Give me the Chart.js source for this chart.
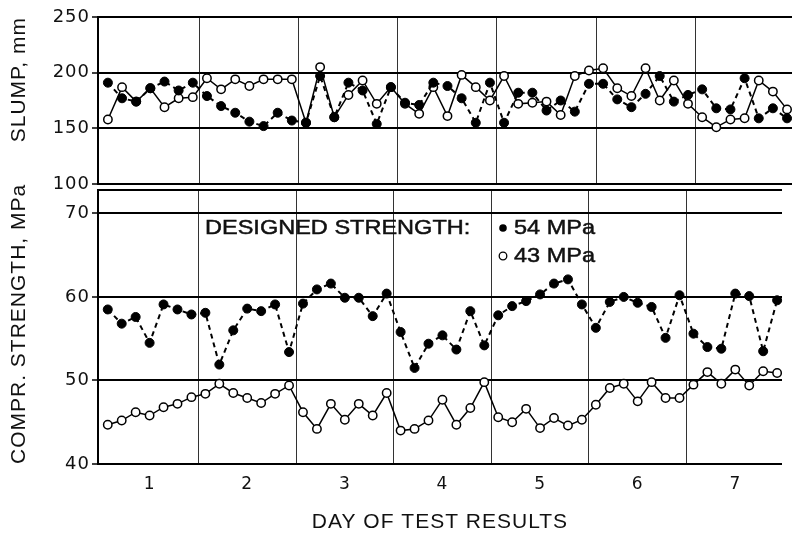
<!DOCTYPE html>
<html><head><meta charset="utf-8">
<script src="https://cdn.jsdelivr.net/npm/chart.js@4"></script>
<style>
html,body{margin:0;padding:0;background:#fff;}
#wrap{position:relative;width:792px;height:538px;overflow:hidden;background:#fff;}
#c1{position:absolute;left:0;top:0;}
#c2{position:absolute;left:0;top:170px;}
</style></head><body>
<div id="wrap">
<canvas id="c1" width="792" height="200"></canvas>
<canvas id="c2" width="792" height="368"></canvas>
</div>
<script>
// ---- data (7 tests per day, days 1..7) ----
const days = ['1','2','3','4','5','6','7'];
const testsPerDay = 7;
const slumpTicks = [100,150,200,250];
const strengthTicks = [40,50,60,70];

// slump, mm — 54 MPa concrete (filled dots)
const slump54 = [
  191,177,174,186,192,184,191,
  179,170,164,156,152,164,157,
  155,197,160,191,184,154,187,
  173,171,191,188,177,155,191,
  155,182,182,166,175,165,190,
  190,176,169,181,197,174,180,
  185,168,167,195,159,168,159];
// slump, mm — 43 MPa concrete (open circles)
const slump43 = [
  158,187,174,186,169,177,178,
  195,185,194,188,194,194,194,
  155,205,160,180,193,172,187,
  172,163,187,161,198,187,175,
  197,172,173,174,162,197,202,
  204,186,179,204,175,193,172,
  160,151,158,159,193,183,167];
// compressive strength, MPa — 54 MPa design
const strength54 = [
  58.5,56.8,57.6,54.5,59.1,58.5,57.9,
  58.1,51.9,56.0,58.6,58.3,59.1,53.4,
  59.2,60.9,61.6,59.9,59.9,57.7,60.4,
  55.8,51.5,54.4,55.4,53.7,58.3,54.2,
  57.8,58.9,59.5,60.3,61.6,62.1,59.1,
  56.3,59.4,60.0,59.3,58.8,55.1,60.2,
  55.6,54.0,53.8,60.4,60.1,53.5,59.6];
// compressive strength, MPa — 43 MPa design
const strength43 = [
  44.7,45.2,46.2,45.8,46.8,47.2,48.0,
  48.4,49.6,48.5,47.9,47.3,48.4,49.4,
  46.2,44.2,47.2,45.3,47.2,45.8,48.5,
  44.0,44.2,45.2,47.7,44.7,46.7,49.8,
  45.6,45.0,46.6,44.3,45.5,44.6,45.3,
  47.1,49.1,49.6,47.5,49.8,47.9,47.9,
  49.5,51.0,49.6,51.3,49.4,51.1,50.9];

// ---- layout helpers ----
const FONT = "'Liberation Sans', Arial, sans-serif";
const TICKFONT = "'DejaVu Sans', sans-serif";
const INK = '#111';
const xMin = -0.7, xMax = 48.35;
const dayCenters = days.map((d,i)=> i*testsPerDay + (testsPerDay-1)/2);
const dividers = days.slice(1).map((d,i)=> (i+1)*testsPerDay - 0.5);
const pts = arr => arr.map((v,k)=>({x:k, y:v}));

function xScale(showLabels){
  return {
    type:'linear', min:xMin, max:xMax,
    afterBuildTicks: s => {
      const vals = [xMin, ...dayCenters, ...dividers, xMax].sort((a,b)=>a-b);
      s.ticks = vals.map(v=>({value:v}));
    },
    afterFit: s => { s.height = showLabels ? 74 : 0; },
    ticks:{display:showLabels, autoSkip:false, maxRotation:0, padding:10,
      font:{family:TICKFONT,size:17}, color:INK,
      callback:(v)=>{ const i = dayCenters.indexOf(v); return i>=0 ? days[i] : ''; }},
    grid:{drawTicks:false,
      color: c => dividers.includes(c.tick.value) ? '#333' : 'rgba(0,0,0,0)',
      lineWidth: 1},
    border:{display:false},
    title:{display:showLabels, text:'DAY OF TEST RESULTS', color:INK,
      font:{family:FONT,size:21}, padding:{top:0,bottom:3}}
  };
}

function yScale(min, max, tickVals, title, align){
  const all = tickVals.includes(max) ? tickVals : [...tickVals, max];
  return {
    type:'linear', min:min, max:max,
    afterBuildTicks: s => { s.ticks = all.map(v=>({value:v})); },
    afterFit: s => { s.width = 98; },
    ticks:{font:{family:TICKFONT,size:18}, color:INK, padding:2,
      callback:(v)=> tickVals.includes(v) ? String(v) : ''},
    grid:{color:'#000', lineWidth:2, drawTicks:true, tickLength:6, tickWidth:1.5,
      tickColor: c => tickVals.includes(c.tick.value) ? '#000' : 'rgba(0,0,0,0)'},
    border:{display:true, color:'#000', width:2},
    title:{display:true, text:title, align:align, color:INK,
      font:{family:FONT,size:21}, padding:{top:7,bottom:0}}
  };
}

const filledStyle = {borderColor:'#000', borderWidth:2, borderDash:[5,4],
  pointRadius:4.5, pointBackgroundColor:'#000', pointBorderColor:'#000', pointBorderWidth:1,
  fill:false, tension:0, clip:false};
const openStyle = {borderColor:'#000', borderWidth:1.5,
  pointRadius:4.2, pointBackgroundColor:'#fff', pointBorderColor:'#000', pointBorderWidth:1.5,
  fill:false, tension:0, clip:false};

Chart.defaults.font.family = FONT;

const spacingPlugin = {
  id:'spacing',
  beforeDraw(chart){ try { chart.ctx.letterSpacing = '1px'; } catch(e){} }
};

new Chart(document.getElementById('c1'), {
  type:'line',
  data:{datasets:[
    Object.assign({label:'54 MPa', data:pts(slump54)}, filledStyle),
    Object.assign({label:'43 MPa', data:pts(slump43)}, openStyle)
  ]},
  options:{responsive:false, animation:false, devicePixelRatio:1,
    layout:{autoPadding:false, padding:{top:17,bottom:16,left:0,right:0}},
    plugins:{legend:{display:false}, tooltip:{enabled:false}},
    scales:{x:xScale(false), y:yScale(100,250,slumpTicks,'SLUMP, mm','end')}},
  plugins:[spacingPlugin]
});

const legendPlugin = {
  id:'designLegend',
  afterDraw(chart){
    const ctx = chart.ctx;
    ctx.save();
    try { ctx.letterSpacing = '0px'; } catch(e){}
    ctx.fillStyle = INK;
    ctx.strokeStyle = INK;
    ctx.lineWidth = 0.5;
    ctx.textBaseline = 'middle';
    ctx.font = "21px " + FONT;
    const drawText = (t, x, y) => { ctx.save(); ctx.translate(x, y); ctx.scale(1.12, 1); ctx.fillText(t, 0, 0); ctx.strokeText(t, 0, 0); ctx.restore(); };
    drawText('DESIGNED STRENGTH:', 205, 58);
    drawText(chart.data.datasets[0].label, 514, 58);
    drawText(chart.data.datasets[1].label, 514, 86);
    ctx.beginPath(); ctx.arc(503, 58, 3.8, 0, Math.PI*2); ctx.fillStyle='#000'; ctx.fill();
    ctx.beginPath(); ctx.arc(503, 86, 3.8, 0, Math.PI*2); ctx.fillStyle='#fff'; ctx.fill();
    ctx.lineWidth = 1.3; ctx.strokeStyle='#000'; ctx.stroke();
    ctx.restore();
  }
};

new Chart(document.getElementById('c2'), {
  type:'line',
  data:{datasets:[
    Object.assign({label:'54 MPa', data:pts(strength54)}, filledStyle),
    Object.assign({label:'43 MPa', data:pts(strength43)}, openStyle)
  ]},
  options:{responsive:false, animation:false, devicePixelRatio:1,
    layout:{autoPadding:false, padding:{top:20,bottom:0,left:0,right:0}},
    plugins:{legend:{display:false}, tooltip:{enabled:false}},
    scales:{x:xScale(true), y:yScale(40,72.8,strengthTicks,'COMPR. STRENGTH, MPa','start')}},
  plugins:[spacingPlugin, legendPlugin]
});
</script>
</body></html>
